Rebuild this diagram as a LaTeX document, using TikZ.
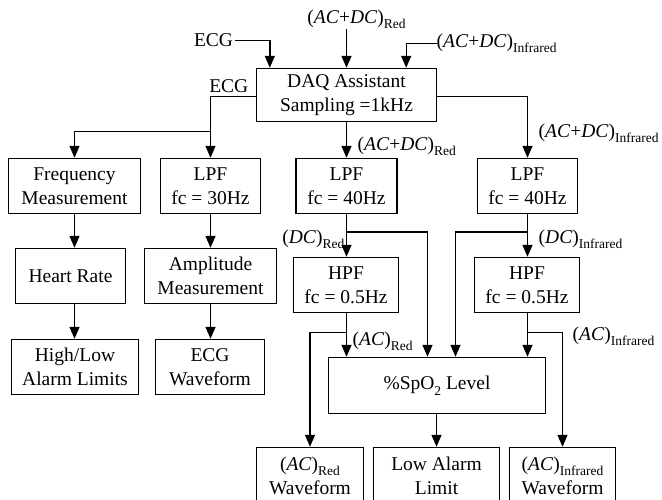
\documentclass[tikz,border=0pt]{standalone}
\usepackage{fontspec}
\setmainfont{Liberation Serif}
\usetikzlibrary{arrows.meta,calc}
\newcommand\sbs[1]{\raisebox{-5.5pt}{\fontsize{13.5}{13.5}\selectfont #1}}
\begin{document}
\begin{tikzpicture}[x=1pt,y=-1pt,
  every node/.style={font=\fontsize{19.5}{24}\selectfont},
  blk/.style={draw,line width=1.4pt,align=center,inner sep=0pt},
  lbl/.style={inner sep=0pt},
  arr/.style={line width=1.4pt,-{Triangle[length=12pt,width=10pt]}}]
\useasboundingbox (0,0) rectangle (662,500);
\clip (0,0) rectangle (662,500);
\begin{scope}[shift={(0.5,0.5)}]
% blocks
\node[blk,minimum width=180,minimum height=53] (DAQ) at (346,94.5) {DAQ Assistant\\Sampling =1kHz};
\node[blk,minimum width=132,minimum height=55] (Freq) at (74,185.5) {Frequency\\Measurement};
\node[blk,minimum width=100,minimum height=55] (LPFa) at (210,185.5) {LPF\\fc = 30Hz};
\node[blk,minimum width=101,minimum height=55] (LPFr) at (346,185.5) {LPF\\fc = 40Hz};
\node[blk,minimum width=100,minimum height=55] (LPFi) at (527,185.5) {LPF\\fc = 40Hz};
\node[blk,minimum width=110,minimum height=55] (HR) at (70,275.5) {Heart Rate};
\node[blk,minimum width=132,minimum height=55] (Amp) at (210,275.5) {Amplitude\\Measurement};
\node[blk,minimum width=105,minimum height=55] (HPFr) at (345.5,284.5) {HPF\\fc = 0.5Hz};
\node[blk,minimum width=105,minimum height=55] (HPFi) at (526.5,284.5) {HPF\\fc = 0.5Hz};
\node[blk,minimum width=127,minimum height=55] (HL) at (74.5,366.5) {High/Low\\Alarm Limits};
\node[blk,minimum width=109,minimum height=55] (ECGW) at (209.5,366.5) {ECG\\Waveform};
\node[blk,minimum width=217,minimum height=56] (SpO) at (436.5,385) {\%SpO\sbs{2} Level};
\node[blk,minimum width=107,minimum height=56] (ACRW) at (309.5,475) {(\textit{AC})\sbs{Red}\\Waveform};
\node[blk,minimum width=126,minimum height=56] (LAL) at (436,475) {Low Alarm\\Limit};
\node[blk,minimum width=106,minimum height=56] (ACIW) at (562,475) {(\textit{AC})\sbs{Infrared}\\Waveform};
% labels
\node[lbl] (ECGin) at (213,40) {ECG};
\node[lbl] (ACDCrt) at (356,19) {(\textit{AC}+\textit{DC})\sbs{Red}};
\node[lbl,anchor=west] (ACDCit) at (436,43) {(\textit{AC}+\textit{DC})\sbs{Infrared}};
\node[lbl,anchor=east] (ECGout) at (248,86) {ECG};
\node[lbl,anchor=west] (ACDCrm) at (357,146) {(\textit{AC}+\textit{DC})\sbs{Red}};
\node[lbl,anchor=west] (ACDCim) at (538,133) {(\textit{AC}+\textit{DC})\sbs{Infrared}};
\node[lbl,anchor=east] (DCr) at (344,239) {(\textit{DC})\sbs{Red}};
\node[lbl,anchor=west] (DCi) at (538,239) {(\textit{DC})\sbs{Infrared}};
\node[lbl,anchor=west] (ACr) at (352,341) {(\textit{AC})\sbs{Red}};
\node[lbl,anchor=west] (ACi) at (572,336) {(\textit{AC})\sbs{Infrared}};
% connectors top
\draw[arr] ([xshift=2pt]ECGin.east) -| ($(DAQ.north west)+(14,0)$);
\draw[arr] (ACDCrt.south -| DAQ.north) -- (DAQ.north);
\draw[arr] (ACDCit.west) -| ($(DAQ.north east)+(-31,0)$);
% ECG branch
\draw[arr] ([yshift=-1.5pt]DAQ.west) -| (LPFa.north);
\draw[arr] ($(LPFa.north)+(0,-26)$) -| (Freq.north);
\draw[arr] (Freq.south) -- (Freq.south |- HR.north);
\draw[arr] (Freq.south |- HR.south) -- (Freq.south |- HL.north);
\draw[arr] (LPFa.south) -- (Amp.north);
\draw[arr] (Amp.south) -- (Amp.south |- ECGW.north);
% red/IR paths
\draw[arr] ([yshift=-1.5pt]DAQ.east) -| (LPFi.north);
\draw[arr] (DAQ.south) -- (LPFr.north);
\draw[arr] (LPFr.south) -- (HPFr.north -| LPFr.south);
\draw[arr] (LPFi.south) -- (HPFi.north -| LPFi.south);
\coordinate (jr) at ($(LPFr.south)+(0,18)$);
\coordinate (ji) at ($(LPFi.south)+(0,18)$);
\draw[arr] (jr) -| ($(SpO.north)+(-9.5,0)$);
\draw[arr] (ji) -| ($(SpO.north)+(18.5,0)$);
\draw[arr] (HPFr.south -| LPFr.south) -- (SpO.north -| LPFr.south);
\draw[arr] (HPFi.south -| LPFi.south) -- (SpO.north -| LPFi.south);
\coordinate (kr) at ($(HPFr.south -| LPFr.south)+(0,19)$);
\coordinate (ki) at ($(HPFi.south -| LPFi.south)+(0,19)$);
\draw[arr] (kr) -| (ACRW.north);
\draw[arr] (ki) -| (ACIW.north);
\draw[arr] (SpO.south -| LAL.north) -- (LAL.north);
\end{scope}
\end{tikzpicture}
\end{document}
